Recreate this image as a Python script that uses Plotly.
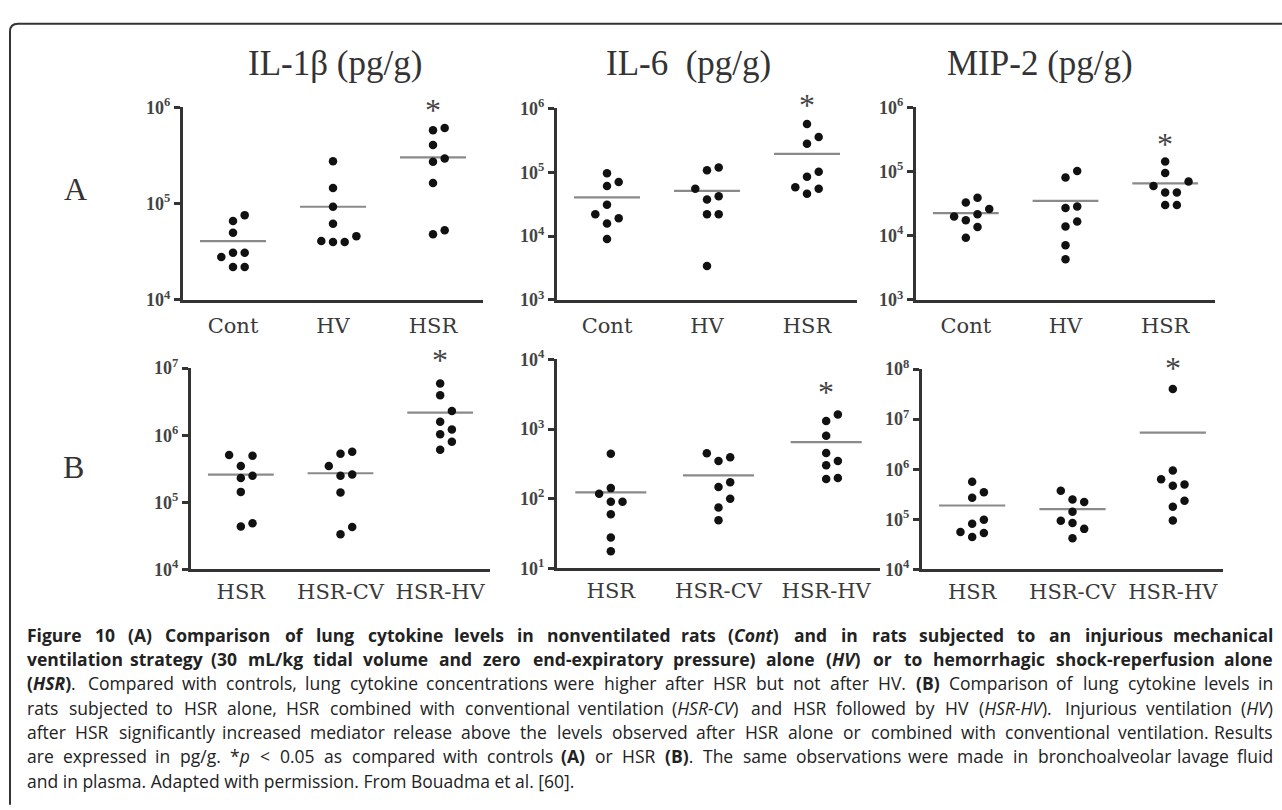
import re
import numpy as np
import plotly.graph_objects as go

W, H = 1282, 810

# ---------------- data ----------------
cats_A = ["Cont", "HV", "HSR"]
cats_B = ["HSR", "HSR-CV", "HSR-HV"]

titles = ["IL-1β (pg/g)", "IL-6&nbsp; (pg/g)", "MIP-2 (pg/g)"]

il1b_A_cont = [76000, 66000, 50000, 31000, 31000, 28000, 22000, 22000]
il1b_A_hv = [276000, 145000, 93000, 62000, 46000, 41000, 40000, 40000]
il1b_A_hsr = [610000, 577000, 406000, 294000, 272000, 164000, 53000, 48000]

il6_A_cont = [96000, 70000, 61000, 31000, 21900, 19000, 15800, 9000]
il6_A_hv = [118000, 107000, 55000, 42000, 37400, 21900, 21900, 3400]
il6_A_hsr = [570000, 357000, 280000, 102000, 85000, 58000, 55000, 46000]

mip2_A_cont = [39000, 33000, 26000, 21600, 20000, 17400, 13700, 9300]
mip2_A_hv = [102000, 80700, 28600, 27000, 16600, 13900, 7100, 4300]
mip2_A_hsr = [143000, 95000, 70000, 59600, 47200, 47200, 30000, 30000]

il1b_B_hsr = [507000, 495000, 347000, 249000, 231000, 143000, 48700, 43700]
il1b_B_hsrcv = [566000, 530000, 347000, 260000, 249000, 140000, 42700, 33500]
il1b_B_hsrhv = [5870000, 3940000, 2290000, 1580000, 1220000, 1030000, 798000, 605000]

il6_B_hsr = [443, 142, 118, 90.5, 90.5, 60, 27.8, 17.7]
il6_B_hsrcv = [449, 394, 347, 173, 147, 100, 74.6, 49]
il6_B_hsrhv = [1610, 1300, 800, 454, 347, 302, 198, 192]

mip2_B_hsr = [560000, 348000, 270000, 98000, 81800, 55700, 53200, 44500]
mip2_B_hsrcv = [374000, 250000, 223000, 142000, 93500, 84300, 64500, 41900]
mip2_B_hsrhv = [40000000, 940000, 630000, 498000, 468000, 236000, 178000, 95000]

star_group = 2  # significant group in every panel

caption_lines = [
    "<b>Figure 10 (A) Comparison of lung cytokine levels in nonventilated rats (<i>Cont</i>) and in rats subjected to an injurious mechanical</b>",
    "<b>ventilation strategy (30 mL/kg tidal volume and zero end-expiratory pressure) alone (<i>HV</i>) or to hemorrhagic shock-reperfusion alone</b>",
    "<b>(<i>HSR</i>)</b>. Compared with controls, lung cytokine concentrations were higher after HSR but not after HV. <b>(B)</b> Comparison of lung cytokine levels in",
    "rats subjected to HSR alone, HSR combined with conventional ventilation (<i>HSR-CV</i>) and HSR followed by HV (<i>HSR-HV</i>). Injurious ventilation (<i>HV</i>)",
    "after HSR significantly increased mediator release above the levels observed after HSR alone or combined with conventional ventilation. Results",
    "are expressed in pg/g. *<i>p</i> &lt; 0.05 as compared with controls <b>(A)</b> or HSR <b>(B)</b>. The same observations were made in bronchoalveolar lavage fluid",
    "and in plasma. Adapted with permission. From Bouadma et al. [60].",
]
caption_justified = [True, True, True, True, True, True, False]

# ---------------- layout configuration (pixels) ----------------
panels = [
    dict(cats=cats_A, groups=[il1b_A_cont, il1b_A_hv, il1b_A_hsr], yr=(4, 6), box=(183, 483, 98, 296), star=1.015),
    dict(cats=cats_A, groups=[il6_A_cont, il6_A_hv, il6_A_hsr], yr=(3, 6), box=(557, 857, 99, 296), star=1.051),
    dict(cats=cats_A, groups=[mip2_A_cont, mip2_A_hv, mip2_A_hsr], yr=(3, 6), box=(916, 1215, 98, 296), star=0.843),
    dict(cats=cats_B, groups=[il1b_B_hsr, il1b_B_hsrcv, il1b_B_hsrhv], yr=(4, 7), box=(191, 490, 366, 573), star=1.068),
    dict(cats=cats_B, groups=[il6_B_hsr, il6_B_hsrcv, il6_B_hsrhv], yr=(1, 4), box=(557, 880, 357, 572), star=0.870),
    dict(cats=cats_B, groups=[mip2_B_hsr, mip2_B_hsrcv, mip2_B_hsrhv], yr=(4, 8), box=(922, 1223, 367, 573), star=1.034),
]
title_pos = [(335, 53), (689, 53), (1040, 53)]
letter_pos = [("A", 75, 182), ("B", 73, 468)]
cap_left, cap_right = 27, 1273
cap_y0, cap_dy = 640, 25.0
cap_size = 17.5

SERIF = "Liberation Serif, Times New Roman, serif"
CATFONT = "DejaVu Serif, serif"
CAPFONT = "Open Sans, Noto Sans, sans-serif"
STEP_PX = 11.7      # horizontal spacing of swarm dots
HALF_LINE = 0.33    # half length of mean line (category units)

# approximate Open Sans advance widths (units of 1/2048 em)
_REG = dict(zip(" abcdefghijklmnopqrstuvwxyz",
                [532, 1139, 1255, 975, 1255, 1149, 694, 1122, 1257, 518, 518, 1075, 518, 1905,
                 1257, 1237, 1255, 1255, 836, 977, 723, 1257, 1026, 1593, 1073, 1028, 954]))
_REG.update(dict(zip("ABCDEFGHIJKLMNOPQRSTUVWXYZ",
                     [1296, 1327, 1292, 1493, 1124, 1047, 1481, 1511, 600, 578, 1206, 1051, 1838,
                      1556, 1599, 1239, 1599, 1280, 1100, 1118, 1503, 1221, 1884, 1195, 1147, 1155])))
_REG.update({c: 1171 for c in "0123456789"})
_REG.update({"(": 604, ")": 604, ".": 545, ",": 502, "-": 659, "/": 752, "[": 621, "]": 621,
             "*": 1061, "<": 1171, ";": 545, ":": 545})
CAL = 0.965   # measured correction of the width table
BOLD = 1.10   # bold widening (digits keep their width)


def caption_words(line):
    """Split a line of tagged text into words, each carrying its own open/close tags
    and an estimated width in em."""
    toks = re.findall(r"<[^>]+>|&[a-z]+;|[^<&]", line)
    words, stack, cur = [], [], None
    for t in toks:
        if t.startswith("<"):
            if t.startswith("</"):
                stack.pop()
            else:
                stack.append(t)
            if cur is not None:
                cur["html"] += t
            continue
        if t == " ":
            if cur is not None:
                cur["html"] += "".join("</" + s[1:] for s in reversed(stack))
                words.append(cur)
                cur = None
            continue
        if cur is None:
            cur = {"html": "".join(stack), "w": 0.0}
        ch = "<" if t == "&lt;" else t
        cur["html"] += t
        fac = BOLD if ("<b>" in stack and not ch.isdigit()) else 1.0
        cur["w"] += _REG.get(ch, 1100) / 2048.0 * fac * CAL
    if cur is not None:
        cur["html"] += "".join("</" + s[1:] for s in reversed(stack))
        words.append(cur)
    return words


def px(x):
    return x / W


def py(y):
    return 1 - y / H


def swarm(values, lo, hi, h_px):
    """Simple beeswarm: place points bottom-up, choose nearest free slot."""
    order = np.argsort(values)
    ypix = (np.log10(values) - lo) / (hi - lo) * h_px
    placed = []
    offs = np.zeros(len(values))
    cands = [0, 1, -1, 2, -2, 3, -3]
    for idx in order:
        for c in cands:
            ok = True
            for (pxo, pyo) in placed:
                if np.hypot(c * STEP_PX - pxo, ypix[idx] - pyo) < STEP_PX - 0.05:
                    ok = False
                    break
            if ok:
                offs[idx] = c
                placed.append((c * STEP_PX, ypix[idx]))
                break
    return offs


fig = go.Figure()
layout = {}
annotations = []

for k, p in enumerate(panels, start=1):
    x0, x1, y0, y1 = p["box"]
    lo, hi = p["yr"]
    w_px, h_px = x1 - x0, y1 - y0
    step_units = 3.0 / w_px  # category units per pixel
    sfx = "" if k == 1 else str(k)
    xa, ya = "x" + sfx, "y" + sfx
    # mean lines
    lx, ly = [], []
    for i, g in enumerate(p["groups"]):
        m = float(np.mean(g))
        lx += [i - HALF_LINE, i + HALF_LINE, None]
        ly += [m, m, None]
    fig.add_trace(go.Scatter(x=lx, y=ly, mode="lines", line=dict(color="#8a8a8a", width=2.2),
                             xaxis=xa, yaxis=ya, showlegend=False, hoverinfo="skip"))
    # dots
    for i, g in enumerate(p["groups"]):
        offs = swarm(np.array(g, dtype=float), lo, hi, h_px)
        fig.add_trace(go.Scatter(x=i + offs * STEP_PX * step_units, y=g, mode="markers",
                                 marker=dict(size=8.5, color="#111111"),
                                 xaxis=xa, yaxis=ya, showlegend=False,
                                 name=p["cats"][i]))
    layout["xaxis" + sfx] = dict(
        domain=[px(x0), px(x1)], range=[-0.5, 2.5], anchor=ya,
        tickvals=[0, 1, 2], ticktext=p["cats"], ticks="", showgrid=False, zeroline=False,
        showline=True, linewidth=3, linecolor="#333333",
        tickfont=dict(family=CATFONT, size=21, color="#3a3a3a"),
        ticklabelstandoff=5 if k <= 3 else 1, fixedrange=True)
    layout["yaxis" + sfx] = dict(
        domain=[py(y1), py(y0)], type="log", range=[lo, hi], anchor=xa,
        tickvals=[10 ** e for e in range(lo, hi + 1)],
        ticktext=[f"10<sup>{e}</sup>" for e in range(lo, hi + 1)],
        ticks="outside", ticklen=6, tickwidth=2.5, tickcolor="#333333",
        showgrid=False, zeroline=False, showline=True, linewidth=3, linecolor="#333333",
        tickfont=dict(family=SERIF, size=18, color="#444444", weight="bold"), fixedrange=True)
    annotations.append(dict(text="*", x=star_group, y=p["star"], xref=xa, yref=f"{ya} domain",
                            showarrow=False, xanchor="center", yanchor="middle", yshift=-6,
                            font=dict(family=SERIF, size=32, color="#444444")))

for t, (cx, cy) in zip(titles, title_pos):
    annotations.append(dict(text=t, x=px(cx), y=py(cy), xref="paper", yref="paper",
                            showarrow=False, xanchor="center", yanchor="middle",
                            font=dict(family=SERIF, size=35, color="#333333")))
for (t, cx, cy) in letter_pos:
    annotations.append(dict(text=t, x=px(cx), y=py(cy), xref="paper", yref="paper",
                            showarrow=False, xanchor="center", yanchor="middle",
                            font=dict(family=SERIF, size=32, color="#333333")))

# caption: justified lines (word by word), last line left-aligned
avail = cap_right - cap_left
for j, (line, just) in enumerate(zip(caption_lines, caption_justified)):
    yc = py(cap_y0 + j * cap_dy)
    base = dict(xref="paper", yref="paper", showarrow=False, yanchor="middle",
                borderpad=0, borderwidth=0)
    if not just:
        annotations.append(dict(text=line, x=px(cap_left), y=yc, xanchor="left",
                                font=dict(family=CAPFONT, size=cap_size, color="#222222"), **base))
        continue
    words = caption_words(line)
    em_total = sum(w["w"] for w in words)
    space_em = _REG[" "] / 2048.0
    size = min(cap_size, avail / (em_total + space_em * (len(words) - 1)))
    gap = (avail - em_total * size) / (len(words) - 1)
    xpos = cap_left
    for n, wd in enumerate(words):
        last = n == len(words) - 1
        annotations.append(dict(text=wd["html"], x=px(cap_right if last else xpos), y=yc,
                                xanchor="right" if last else "left",
                                font=dict(family=CAPFONT, size=size, color="#222222"), **base))
        xpos += wd["w"] * size + gap

# frame with rounded top-left corner
r = 8
frame = (f"M {px(10)},{py(H + 5)} L {px(10)},{py(12 + r)} "
         f"Q {px(10)},{py(12)} {px(10 + r)},{py(12)} L {px(W + 5)},{py(12)}")
shapes = [dict(type="path", path=frame, xref="paper", yref="paper",
               line=dict(color="#333333", width=2))]

fig.update_layout(width=W, height=H, margin=dict(l=0, r=0, t=0, b=0),
                  paper_bgcolor="white", plot_bgcolor="white", showlegend=False,
                  annotations=annotations, shapes=shapes, **layout)

fig.write_html("out.html", config={"displayModeBar": False},
               post_script="document.body.style.margin='0';document.body.style.overflow='hidden';")
